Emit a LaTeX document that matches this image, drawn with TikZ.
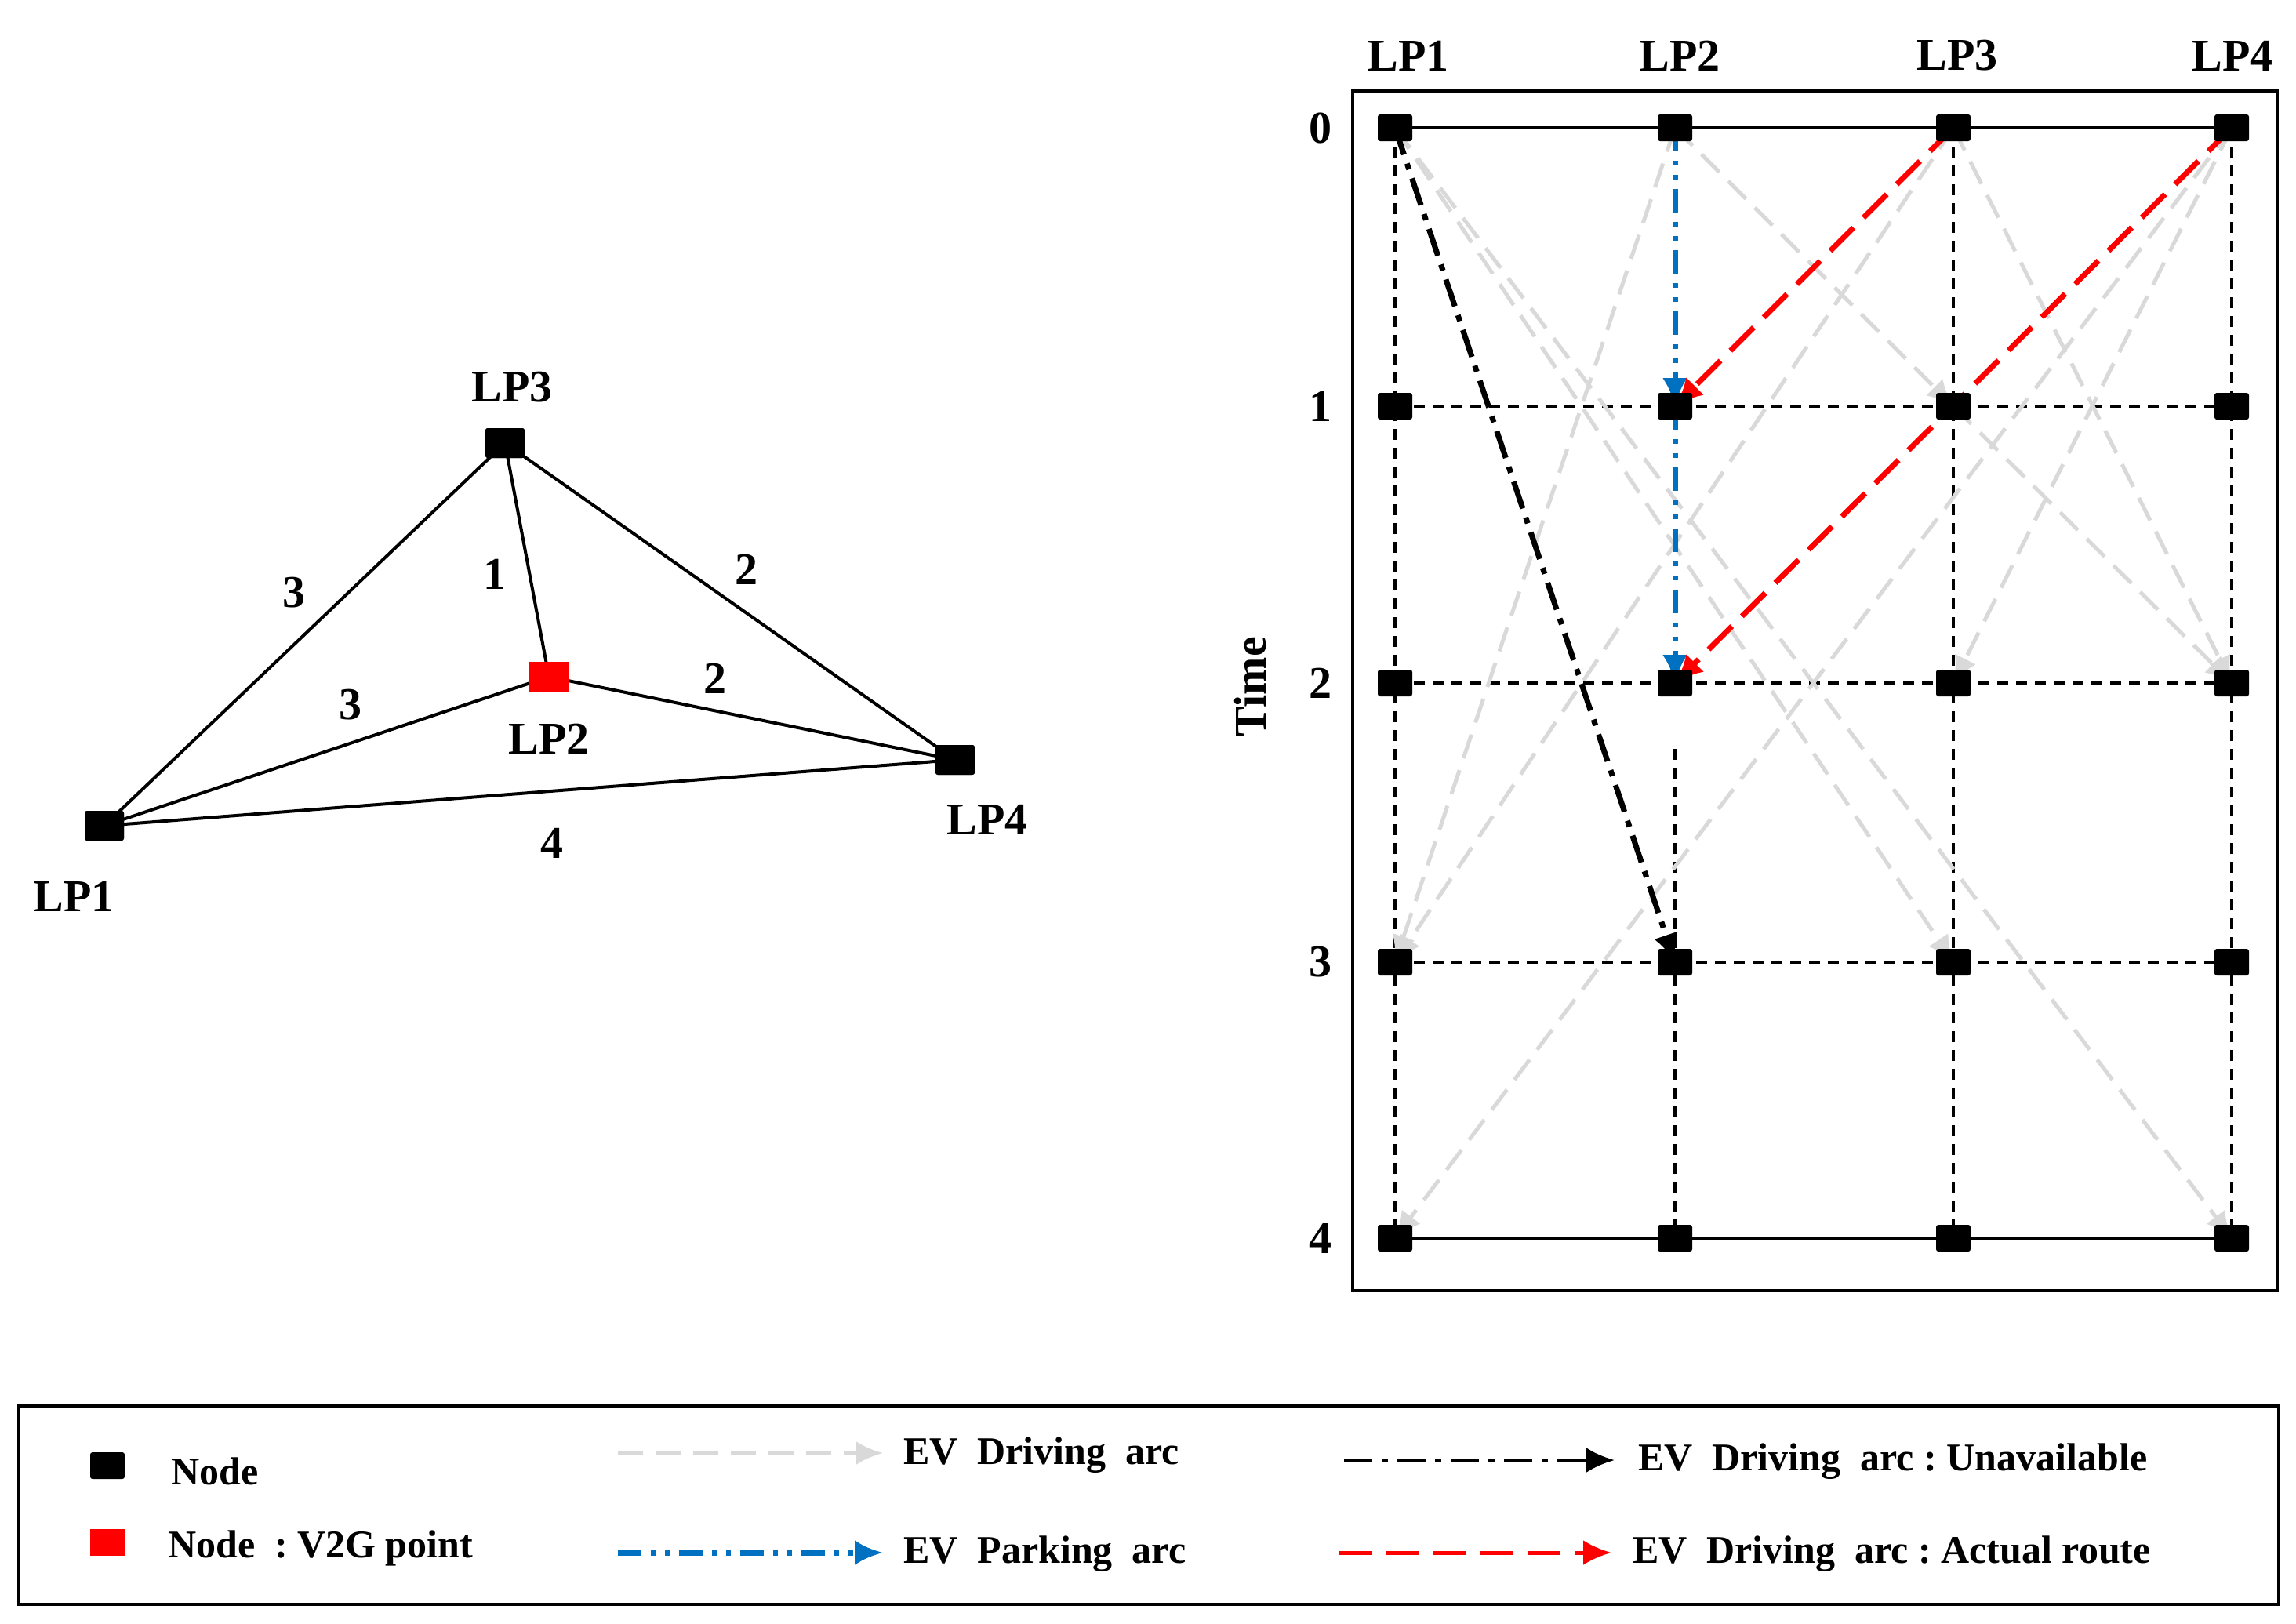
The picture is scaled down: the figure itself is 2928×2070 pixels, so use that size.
\documentclass[tikz,border=0pt]{standalone}
\usepackage{fontspec}
\setmainfont{Liberation Serif}
\usetikzlibrary{arrows.meta}
\begin{document}
\begin{tikzpicture}[x=1pt,y=-1pt,
 nd/.style={fill=black,minimum width=50pt,minimum height=38pt,inner sep=0pt,rounded corners=3pt},
 sq/.style={fill=black,minimum width=44pt,minimum height=34pt,inner sep=0pt,rounded corners=3pt},
 lab/.style={font=\fontsize{58}{60}\selectfont\bfseries,inner sep=0pt},
 lg/.style={font=\fontsize{50}{56}\selectfont\bfseries,anchor=west,inner sep=0pt},
 grid/.style={line width=4pt,dash pattern=on 14pt off 10pt},
 solid line/.style={line width=4pt},
 grey/.style={draw=black!15,line width=5pt,dash pattern=on 32pt off 16pt,-{Latex[length=34pt,width=30pt]}},
 redarc/.style={draw=red,line width=7pt,dash pattern=on 42pt off 18pt,-{Latex[length=36pt,width=32pt]}},
 bluearc/.style={draw={rgb,255:red,0;green,112;blue,192},line width=7pt,dash pattern=on 30pt off 12pt on 6pt off 12pt on 6pt off 12pt,-{Latex[length=36pt,width=32pt]}},
 blackarc/.style={draw=black,line width=7pt,dash pattern=on 36pt off 12pt on 8pt off 12pt,-{Latex[length=36pt,width=32pt]}},
 edge/.style={line width=4pt}]
\useasboundingbox (0,0) rectangle (2928,2070);
% left graph
\node[nd] (L3) at (644,565) {};
\node[nd,fill=red,rounded corners=0pt] (L2) at (700,863) {};
\node[nd] (L4) at (1218,969) {};
\node[nd] (L1) at (133,1053) {};
\draw[edge] (L1.center)--(L3.center) (L3.center)--(L2.center) (L3.center)--(L4.center)
 (L1.center)--(L2.center) (L2.center)--(L4.center) (L1.center)--(L4.center);
\node[nd] at (L3) {};\node[nd] at (L4) {};\node[nd] at (L1) {};
\node[nd,fill=red,rounded corners=0pt] at (L2) {};
\node[lab] (t3) at (653,494) {LP3};
\node[lab] (t2) at (700,942) {LP2};
\node[lab] (t4) at (1259,1045) {LP4};
\node[lab] (t1) at (94,1143) {LP1};
\node[lab] (e1) at (375,756) {3};
\node[lab] (e2) at (631,732) {1};
\node[lab] (e3) at (952,726) {2};
\node[lab] (e4) at (447,899) {3};
\node[lab] (e5) at (912,865) {2};
\node[lab] (e6) at (704,1075) {4};
% right frame
\draw[line width=4pt] (1725,116) rectangle (2904,1646);
\foreach \c/\x in {1/1779,2/2136,3/2491,4/2846}{
 \foreach \r/\y in {0/163,1/518,2/871,3/1227,4/1579}{
  \coordinate (g\c\r) at (\x,\y);
 }}
\draw[solid line] (g10)--(g40) (g14)--(g44);
\draw[grid] (g11)--(g41) (g12)--(g42) (g13)--(g43);
\draw[grid] (g10)--(g14) (g30)--(g34) (g40)--(g44);
\draw[grid] (2136,955)--(g24);
% grey arcs
\draw[grey] (g10)--(g33);
\draw[grey] (g10)--(g44);
\draw[grey] (g20)--(g13);
\draw[grey] (g20)--(g31);
\draw[grey] (g31)--(g42);
\draw[grey] (g30)--(g13);
\draw[grey] (g30)--(g42);
\draw[grey] (g40)--(g32);
\draw[grey] (g40)--(g14);
% highlighted arcs
\draw[blackarc] (g10)--(g23);
\draw[bluearc] (g20)--(g21);
\draw[bluearc] (g21)--(g22);
\draw[redarc] (g30)--(g21);
\draw[redarc] (g40)--(g22);
\foreach \c in {1,2,3,4}{\foreach \r in {0,...,4}{\node[sq] (n\c\r) at (g\c\r) {};}}
\node[lab] (c1) at (1796,71) {LP1};
\node[lab] (c2) at (2142,71) {LP2};
\node[lab] (c3) at (2496,71) {LP3};
\node[lab] (c4) at (2847,71) {LP4};
\foreach \r/\y in {0/163,1/518,2/871,3/1227,4/1579}{\node[lab] (r\r) at (1684,\y) {\r};}
\node[lab,rotate=90] (tm) at (1595,876) {Time};
% legend
\draw[line width=4pt] (24,1793) rectangle (2906,2046);
\node[sq,fill=black] (k1) at (137,1869) {};
\node[sq,fill=red,rounded corners=0pt] (k2) at (137,1967) {};
\node[lg] (k1t) at (218,1876) {Node};
\node[lg] (k2t) at (214,1974) {Node\ \ :\ V2G point};
\coordinate (a1) at (788,1853); \coordinate (b1) at (1126,1853);
\coordinate (a2) at (788,1980); \coordinate (b2) at (1126,1980);
\coordinate (a3) at (1714,1862); \coordinate (b3) at (2059,1862);
\coordinate (a4) at (1708,1980); \coordinate (b4) at (2055,1980);
\draw[grey] (a1)--(b1);
\draw[bluearc] (a2)--(b2);
\draw[blackarc,line width=5pt] (a3)--(b3);
\draw[redarc,line width=5pt] (a4)--(b4);
\node[lg] (k3t) at (1152,1856) {EV\ \ Driving\ \ arc};
\node[lg] (k4t) at (1152,1982) {EV\ \ Parking\ \ arc};
\node[lg] (k5t) at (2089,1864) {EV\ \ Driving\ \ arc\ :\ Unavailable};
\node[lg] (k6t) at (2082,1982) {EV\ \ Driving\ \ arc\ :\ Actual route};
\end{tikzpicture}
\end{document}
